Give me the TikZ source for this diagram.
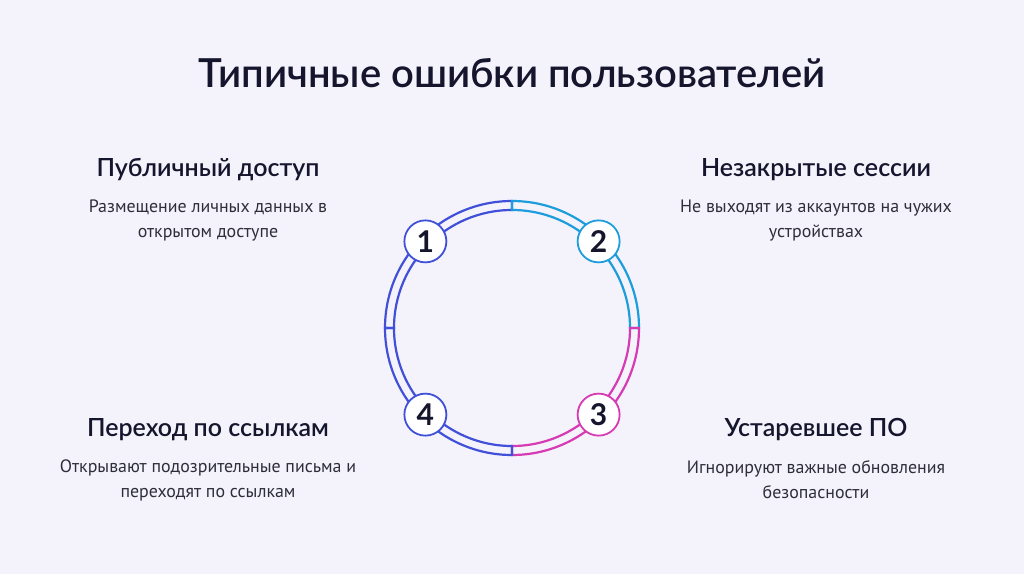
\documentclass[tikz,border=0pt]{standalone}
\usepackage{fontspec}
\setmainfont{PT Sans}
\newfontfamily\headfont{Lato}[BoldFont={* Semibold}]
\newfontfamily\digitfont{Lato}
\usetikzlibrary{positioning}

\definecolor{bgcol}{HTML}{F4F3FB}
\definecolor{ringblue}{HTML}{4150D8}
\definecolor{ringsky}{HTML}{1E9DDD}
\definecolor{ringpink}{HTML}{D63BB3}
\definecolor{inkdark}{HTML}{15152E}
\definecolor{inkgray}{HTML}{2E2E3A}

\begin{document}
\begin{tikzpicture}[
    x=1pt, y=1pt,
    heading/.style={text=inkdark, font=\headfont\bfseries\fontsize{25}{30}\selectfont},
    desc/.style={text=inkgray, align=center, font=\fontsize{17.9}{25}\selectfont},
    numbadge/.style={circle, draw=#1, line width=1.8pt, fill=white, minimum size=42pt, inner sep=0pt, text=inkdark, font=\digitfont\bfseries\fontsize{30}{30}\selectfont},
    sector/.style={draw=#1, line width=2.2pt}
]

    % Background
    \fill[bgcol] (0,0) rectangle (1024,574);
    \useasboundingbox (0,0) rectangle (1024,574);

    % Title
    \node[text=inkdark, font=\headfont\bfseries\fontsize{40}{48}\selectfont] (title) at (512,501) {Типичные ошибки пользователей};

    % Ring
    \coordinate (hub) at (512,246);
    \foreach \a/\b/\c in {90/180/ringblue, 0/90/ringsky, -90/0/ringpink, 180/270/ringblue}
        \draw[sector=\c] ([shift={(\a:118)}]hub) arc[start angle=\a, end angle=\b, radius=118]
            -- ([shift={(\b:127)}]hub) arc[start angle=\b, end angle=\a, radius=127] -- cycle;

    % Badges
    \node[numbadge=ringblue] (b1) at ([shift={(135:122.5)}]hub) {1};
    \node[numbadge=ringsky] (b2) at ([shift={(45:122.5)}]hub) {2};
    \node[numbadge=ringpink] (b3) at ([shift={(-45:122.5)}]hub) {3};
    \node[numbadge=ringblue] (b4) at ([shift={(225:122.5)}]hub) {4};

    % Upper left
    \node[heading] (h1) at (208,404) {Публичный доступ};
    \node[desc, below=12pt of h1] (d1) {Размещение личных данных в\\открытом доступе};

    % Upper right
    \node[heading] (h2) at (816,404) {Незакрытые сессии};
    \node[desc, below=12pt of h2] (d2) {Не выходят из аккаунтов на чужих\\устройствах};

    % Lower left
    \node[heading] (h4) at (208,144) {Переход по ссылкам};
    \node[desc, below=12pt of h4] (d4) {Открывают подозрительные письма и\\переходят по ссылкам};

    % Lower right
    \node[heading] (h3) at (816,144) {Устаревшее ПО};
    \node[desc, below=12pt of h3] (d3) {Игнорируют важные обновления\\безопасности};

\end{tikzpicture}
\end{document}
